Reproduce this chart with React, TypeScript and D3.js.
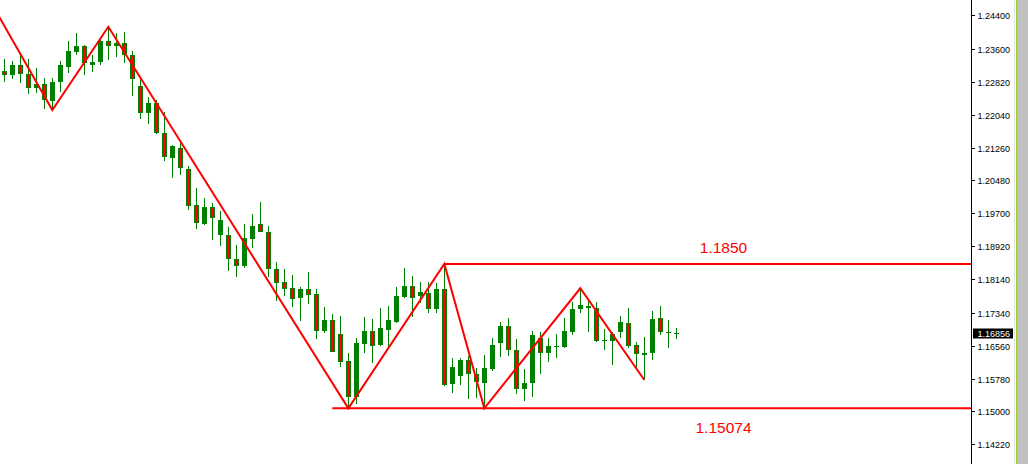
import * as d3 from "d3";
import { useEffect } from "react";

const WIDTH = 1028;
const HEIGHT = 464;

// OHLC, one entry per bar (oldest first)
const opens = [
  1.23085, 1.22983, 1.2322, 1.23007, 1.22682, 1.2277, 1.22373, 1.22824, 1.2318, 1.23536,
  1.23671, 1.23228, 1.23299, 1.2379, 1.23679, 1.23743, 1.23451, 1.22722, 1.22074, 1.22312,
  1.216, 1.21021, 1.21244, 1.20745, 1.19891, 1.19447, 1.19844, 1.19175, 1.19186, 1.18617,
  1.18458, 1.19099, 1.19447, 1.19258, 1.1838, 1.18071, 1.17929, 1.17699, 1.17905, 1.17786,
  1.16915, 1.17169, 1.1683, 1.16196, 1.15349, 1.16607, 1.16908, 1.16576, 1.16932, 1.17129,
  1.17722, 1.17976, 1.17746, 1.17803, 1.1743, 1.17905, 1.15651, 1.15848, 1.1622, 1.15888,
  1.15681, 1.16007, 1.16631, 1.17027, 1.16458, 1.15525, 1.15667, 1.16742, 1.16379, 1.16529,
  1.16536, 1.16892, 1.17423, 1.17447, 1.17447, 1.16678, 1.16678, 1.16892, 1.17091, 1.16576,
  1.16346, 1.16379, 1.17224, 1.16853, 1.16853,
];
const highs = [
  1.23363, 1.23315, 1.23458, 1.23363, 1.23142, 1.22905, 1.22912, 1.23315, 1.2379, 1.23987,
  1.23695, 1.23458, 1.23892, 1.24129, 1.23987, 1.24004, 1.23553, 1.22912, 1.22468, 1.2239,
  1.22098, 1.21322, 1.21401, 1.20824, 1.20302, 1.20057, 1.19939, 1.19756, 1.19376, 1.18949,
  1.19447, 1.19685, 1.1997, 1.194, 1.18546, 1.1838, 1.18237, 1.1796, 1.18308, 1.17905,
  1.17485, 1.17305, 1.17264, 1.16386, 1.16742, 1.17248, 1.17193, 1.17447, 1.17502, 1.17945,
  1.18403, 1.18214, 1.18078, 1.18078, 1.1804, 1.185, 1.16261, 1.16261, 1.16315, 1.16023,
  1.16339, 1.16735, 1.17129, 1.1721, 1.16719, 1.15999, 1.16908, 1.16885, 1.16735, 1.16837,
  1.1721, 1.17604, 1.17922, 1.17644, 1.17589, 1.16956, 1.16892, 1.17264, 1.17447, 1.16652,
  1.16773, 1.17383, 1.17502, 1.17169, 1.16987,
];
const lows = [
  1.22824, 1.22888, 1.228, 1.22525, 1.22563, 1.22183, 1.22153, 1.22587, 1.23024, 1.23458,
  1.22983, 1.23062, 1.2322, 1.23339, 1.23417, 1.23275, 1.22492, 1.21951, 1.21816, 1.2159,
  1.2095, 1.20546, 1.2061, 1.1978, 1.19336, 1.19424, 1.19068, 1.18933, 1.18339, 1.18197,
  1.18396, 1.18885, 1.19246, 1.18197, 1.17627, 1.17739, 1.17485, 1.17153, 1.17549, 1.16719,
  1.16868, 1.1641, 1.16047, 1.15074, 1.15176, 1.16393, 1.16156, 1.16552, 1.16536, 1.17105,
  1.17699, 1.17248, 1.17573, 1.17328, 1.17328, 1.15603, 1.1543, 1.15627, 1.15288, 1.15311,
  1.15074, 1.15966, 1.1628, 1.16315, 1.15406, 1.15254, 1.15349, 1.15888, 1.1618, 1.16261,
  1.16498, 1.16813, 1.17328, 1.16892, 1.1664, 1.16458, 1.16101, 1.16749, 1.16498, 1.15983,
  1.15746, 1.1622, 1.16813, 1.16512, 1.16719,
];
const closes = [
  1.2299, 1.2322, 1.23014, 1.22682, 1.22777, 1.22397, 1.22817, 1.2322, 1.23553, 1.23671,
  1.23261, 1.23299, 1.23797, 1.23679, 1.2375, 1.23451, 1.22881, 1.22074, 1.22319, 1.216,
  1.2103, 1.21298, 1.20769, 1.19882, 1.19464, 1.19844, 1.19583, 1.19535, 1.1861, 1.18458,
  1.19108, 1.194, 1.19251, 1.18372, 1.18055, 1.17912, 1.17675, 1.17912, 1.1777, 1.16915,
  1.17169, 1.16417, 1.1618, 1.15349, 1.16624, 1.16908, 1.1656, 1.1698, 1.17169, 1.17739,
  1.17976, 1.17684, 1.17834, 1.1743, 1.17905, 1.15627, 1.16061, 1.1622, 1.15881, 1.15691,
  1.16037, 1.16576, 1.17027, 1.16446, 1.15525, 1.15681, 1.16813, 1.16379, 1.16552, 1.16552,
  1.16908, 1.1743, 1.17525, 1.17502, 1.16678, 1.16695, 1.16837, 1.17115, 1.1656, 1.16355,
  1.16386, 1.17186, 1.16877, 1.16877, 1.16856,
];

// zigzag swing points: bar index and price
const zigzagBars = [-1, 6, 13, 43, 55, 60, 72, 80];
const zigzagPrices = [1.24481, 1.22153, 1.24129, 1.15074, 1.185, 1.15074, 1.17922, 1.15746];

// horizontal levels
const levelPrices = [1.185, 1.15074];
const levelLabels = ["1.1850", "1.15074"];
const levelStartBars = [55, 41];

const yTicks = [
  1.244, 1.236, 1.2282, 1.2204, 1.2126, 1.2048, 1.197, 1.1892, 1.1814, 1.1734, 1.1656,
  1.1578, 1.15, 1.1422,
];

const GREEN = "#008000";
const RED = "#ff0000";
const AXIS_X = 971;

export default function App() {
  useEffect(() => {
    document.body.style.margin = "0";
  }, []);

  const x = d3.scaleLinear().domain([0, 84]).range([4.33, 676.33]);
  const y = d3.scaleLinear().domain([1.1422, 1.244]).range([444.3, 15.3]);

  const zigzag = d3
    .line<number>()
    .x((_, i) => x(zigzagBars[i]))
    .y((p) => y(p));

  const last = closes[closes.length - 1];

  return (
    <svg
      width={WIDTH}
      height={HEIGHT}
      style={{ position: "absolute", left: 0, top: 0, background: "#fff" }}
      fontFamily="'Liberation Sans', Arial, sans-serif"
    >
      {/* candles */}
      <g>
        {opens.map((o, i) => {
          const c = closes[i];
          const cx = Math.round(x(i));
          const hy = Math.round(y(highs[i]));
          const ly = Math.round(y(lows[i]));
          const t = Math.round(y(Math.max(o, c)));
          const b = Math.round(y(Math.min(o, c)));
          const h = Math.max(1, b - t);
          const bull = c >= o;
          return (
            <g key={i}>
              <rect x={cx} y={hy} width={1} height={Math.max(1, ly - hy)} fill={GREEN} />
              <rect x={cx - 2} y={t} width={5} height={h} fill={GREEN} />
              {!bull && h > 2 && (
                <rect x={cx - 1} y={t + 1} width={3} height={h - 2} fill={RED} />
              )}
            </g>
          );
        })}
      </g>

      {/* levels */}
      {levelPrices.map((p, i) => (
        <g key={p}>
          <line
            x1={x(levelStartBars[i])}
            x2={AXIS_X}
            y1={y(p)}
            y2={y(p)}
            stroke={RED}
            strokeWidth={2}
          />
          <text
            x={723.5}
            y={i === 0 ? y(p) - 11 : y(p) + 24.5}
            textAnchor="middle"
            fill={RED}
            fontSize={15.5}
          >
            {levelLabels[i]}
          </text>
        </g>
      ))}

      {/* zigzag */}
      <path d={zigzag(zigzagPrices) ?? ""} fill="none" stroke={RED} strokeWidth={2} />

      {/* right price axis */}
      <rect x={AXIS_X} y={0} width={1} height={HEIGHT} fill="#000" />
      {yTicks.map((t) => {
        const ty = Math.round(y(t));
        return (
          <g key={t}>
            <rect x={AXIS_X + 1} y={ty} width={3} height={1} fill="#000" />
            <text x={977.5} y={ty + 3.5} fontSize={9} fill="#000">
              {t.toFixed(5)}
            </text>
          </g>
        );
      })}
      <rect x={973} y={Math.round(y(last)) - 4.5} width={40} height={10} fill="#000" />
      <text x={977.5} y={Math.round(y(last)) + 3.8} fontSize={9} fill="#fff">
        {last.toFixed(5)}
      </text>

      {/* window edge */}
      <rect x={1014} y={0} width={1} height={HEIGHT} fill="#e3e3e3" />
      <rect x={1016} y={0} width={1} height={HEIGHT} fill="#9acd32" />
      <rect x={1017} y={0} width={11} height={HEIGHT} fill="#c0c0c0" />
    </svg>
  );
}
